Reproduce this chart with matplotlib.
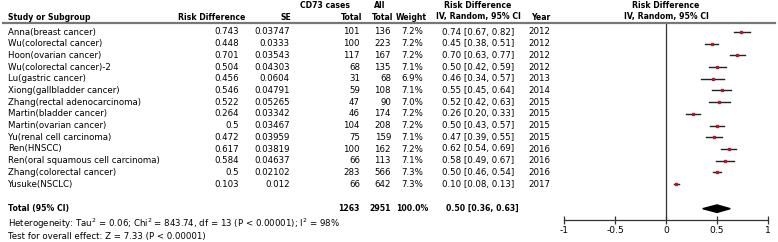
import matplotlib
matplotlib.use("Agg")
import matplotlib.pyplot as plt
from matplotlib.patches import Polygon

studies = ["Anna(breast cancer)", "Wu(colorectal cancer)", "Hoon(ovarian cancer)",
           "Wu(colorectal cancer)-2", "Lu(gastric cancer)", "Xiong(gallbladder cancer)",
           "Zhang(rectal adenocarcinoma)", "Martin(bladder cancer)", "Martin(ovarian cancer)",
           "Yu(renal cell carcinoma)", "Ren(HNSCC)", "Ren(oral squamous cell carcinoma)",
           "Zhang(colorectal cancer)", "Yusuke(NSCLC)"]
rd_raw = ["0.743", "0.448", "0.701", "0.504", "0.456", "0.546", "0.522", "0.264",
          "0.5", "0.472", "0.617", "0.584", "0.5", "0.103"]
se_raw = ["0.03747", "0.0333", "0.03543", "0.04303", "0.0604", "0.04791", "0.05265",
          "0.03342", "0.03467", "0.03959", "0.03819", "0.04637", "0.02102", "0.012"]
cd73_total = [101, 100, 117, 68, 31, 59, 47, 46, 104, 75, 100, 66, 283, 66]
all_total = [136, 223, 167, 135, 68, 108, 90, 174, 208, 159, 162, 113, 566, 642]
weights = [7.2, 7.2, 7.2, 7.1, 6.9, 7.1, 7.0, 7.2, 7.2, 7.1, 7.2, 7.1, 7.3, 7.3]
est = [0.74, 0.45, 0.70, 0.50, 0.46, 0.55, 0.52, 0.26, 0.50, 0.47, 0.62, 0.58, 0.50, 0.10]
lo = [0.67, 0.38, 0.63, 0.42, 0.34, 0.45, 0.42, 0.20, 0.43, 0.39, 0.54, 0.49, 0.46, 0.08]
hi = [0.82, 0.51, 0.77, 0.59, 0.57, 0.64, 0.63, 0.33, 0.57, 0.55, 0.69, 0.67, 0.54, 0.13]
years = [2012, 2012, 2012, 2012, 2013, 2014, 2015, 2015, 2015, 2015, 2016, 2016, 2016, 2017]
total_cd73, total_all, total_w = 1263, 2951, 100.0
total_est, total_lo, total_hi = 0.50, 0.36, 0.63
xticks = [-1, -0.5, 0, 0.5, 1]
xtick_labels = ["-1", "-0.5", "0", "0.5", "1"]

W, H = 778, 242
fig = plt.figure(figsize=(W / 100, H / 100), dpi=100)
plt.rcParams['font.family'] = ['DejaVu Sans']
FS = 6.2
FSB = 5.6

def fx(px):
    return px / W

def fy(py):
    return 1 - py / H

row0, dy = 32.0, 11.7
def rowy(i):
    return row0 + dy * i

# Forest axes
ax_l, ax_r = 564, 768
ax_t, ax_b = 22, 220
ax = fig.add_axes([fx(ax_l), fy(ax_b), (ax_r - ax_l) / W, (ax_b - ax_t) / H])
ax.set_xlim(-1, 1)
ylo = (ax_b - row0) / dy
yhi = (ax_t - row0) / dy
ax.set_ylim(ylo, yhi)
for s in ["top", "right", "left"]:
    ax.spines[s].set_visible(False)
ax.spines["bottom"].set_linewidth(0.9)
ax.spines["bottom"].set_color("#333333")
ax.set_yticks([])
ax.set_xticks(xticks)
ax.set_xticklabels(xtick_labels, fontsize=FS + 0.4)
ax.tick_params(axis="x", direction="inout", length=6, width=0.9, pad=1, color="#333333")
ax.axvline(0, color="#333333", lw=0.9)
ax.patch.set_alpha(0)
for i in range(len(studies)):
    ax.plot([lo[i], hi[i]], [i, i], color="#222222", lw=1.0)
    ax.plot(est[i], i, marker="s", color="#b5172c", ms=1.7, mec="#b5172c")
ty = 15.1
dh = 0.32
ax.add_patch(Polygon([[total_lo, ty], [total_est, ty - dh], [total_hi, ty], [total_est, ty + dh]],
                     closed=True, color="black"))

hdr1, hdr2 = 6, 17
def t(px, py, s, ha="left", bold=False, size=None):
    fig.text(fx(px), fy(py), s, ha=ha, va="center",
             fontsize=size if size else (FSB if bold else FS),
             fontweight="bold" if bold else "normal")

t(8, hdr2, "Study or Subgroup", bold=True)
t(245, hdr2, "Risk Difference", ha="right", bold=True)
t(291, hdr2, "SE", ha="right", bold=True)
t(325, hdr1, "CD73 cases", ha="center", bold=True)
t(362, hdr2, "Total", ha="right", bold=True)
t(380, hdr1, "All", ha="center", bold=True)
t(393, hdr2, "Total", ha="right", bold=True)
t(427, hdr2, "Weight", ha="right", bold=True)
t(478, hdr1, "Risk Difference", ha="center", bold=True)
t(478, hdr2, "IV, Random, 95% CI", ha="center", bold=True)
t(541, hdr2, "Year", ha="center", bold=True)
t(666, hdr1, "Risk Difference", ha="center", bold=True)
t(666, hdr2, "IV, Random, 95% CI", ha="center", bold=True)
fig.add_artist(plt.Line2D([fx(3), fx(775)], [fy(22.5), fy(22.5)], color="#777777", lw=1.6))

for i in range(len(studies)):
    y = rowy(i)
    t(8, y, studies[i])
    t(239, y, rd_raw[i], ha="right")
    t(290, y, se_raw[i], ha="right")
    t(360, y, str(cd73_total[i]), ha="right")
    t(391, y, str(all_total[i]), ha="right")
    t(423, y, f"{weights[i]:.1f}%", ha="right")
    t(442, y, f"{est[i]:.2f} [{lo[i]:.2f}, {hi[i]:.2f}]")
    t(528, y, str(years[i]))

yt = rowy(ty)
t(8, yt, "Total (95% CI)", bold=True)
t(360, yt, str(total_cd73), ha="right", bold=True)
t(391, yt, str(total_all), ha="right", bold=True)
t(428, yt, f"{total_w:.1f}%", ha="right", bold=True)
t(446, yt, f"{total_est:.2f} [{total_lo:.2f}, {total_hi:.2f}]", bold=True)
t(8, 224, "Heterogeneity: Tau$^2$ = 0.06; Chi$^2$ = 843.74, df = 13 (P < 0.00001); I$^2$ = 98%")
t(8, 236, "Test for overall effect: Z = 7.33 (P < 0.00001)")

fig.savefig("out.png", dpi=100)
